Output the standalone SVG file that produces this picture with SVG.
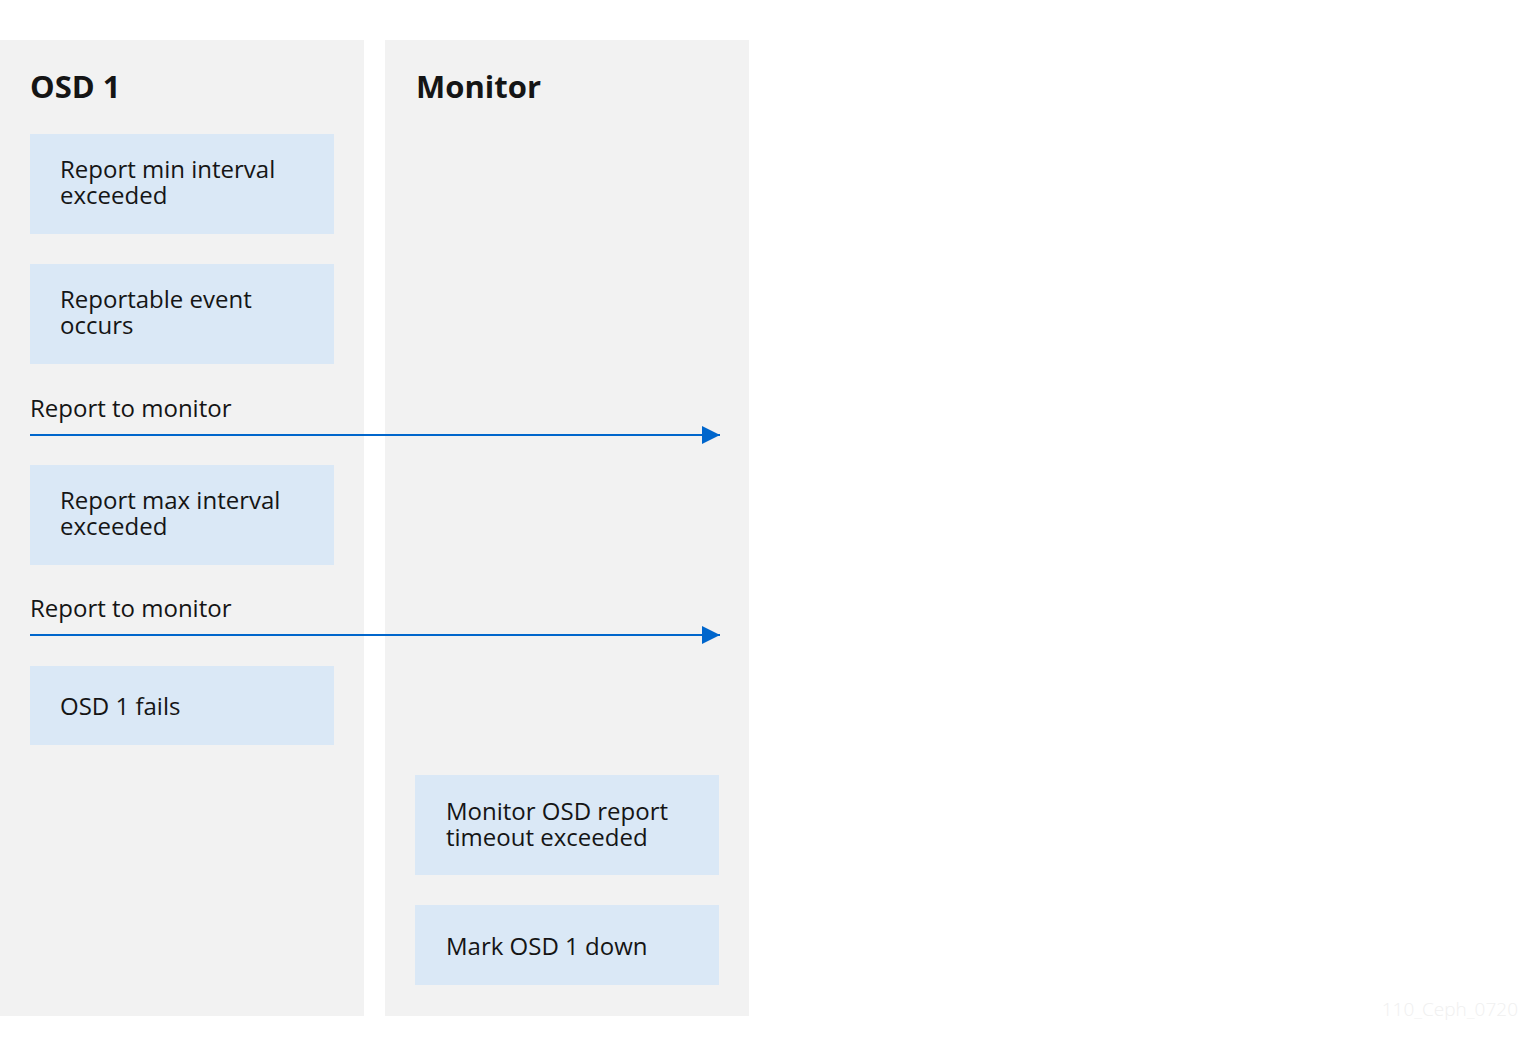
<svg xmlns="http://www.w3.org/2000/svg" width="1520" height="1050" viewBox="0 0 1520 1050">
<defs>
<style>
.panel{fill:#f2f2f2}
.box{fill:#dae8f6}
.t{font-family:"Open Sans","Liberation Sans",sans-serif;font-size:24px;fill:#151515}
.h{font-family:"Open Sans","Liberation Sans",sans-serif;font-size:31px;font-weight:bold;fill:#151515}
.conn{stroke:#0066cc;stroke-width:2;fill:none}
.wm{font-family:"Open Sans","Liberation Sans",sans-serif;font-size:19px;fill:#f0f0f0;font-weight:300}
</style>
<marker id="arr" markerWidth="18" markerHeight="18" refX="18" refY="9" orient="auto" markerUnits="userSpaceOnUse">
<path d="M0,0 L18,9 L0,18 Z" fill="#0066cc"/>
</marker>
</defs>
<rect width="1520" height="1050" fill="#ffffff"/>
<g id="lane-osd1">
<rect class="panel" x="0" y="40" width="364" height="976"/>
<text class="h" x="30" y="98">OSD 1</text>
</g>
<g id="lane-monitor">
<rect class="panel" x="385" y="40" width="364" height="976"/>
<text class="h" x="416" y="98">Monitor</text>
</g>
<g id="n1"><rect class="box" x="30" y="134" width="304" height="100"/><text class="t" x="60" y="178">Report min interval<tspan x="60" dy="26">exceeded</tspan></text></g>
<g id="n2"><rect class="box" x="30" y="264" width="304" height="100"/><text class="t" x="60" y="308">Reportable event<tspan x="60" dy="26">occurs</tspan></text></g>
<g id="n3"><rect class="box" x="30" y="465" width="304" height="100"/><text class="t" x="60" y="509">Report max interval<tspan x="60" dy="26">exceeded</tspan></text></g>
<g id="n4"><rect class="box" x="30" y="666" width="304" height="79"/><text class="t" x="60" y="715">OSD 1 fails</text></g>
<g id="n5"><rect class="box" x="415" y="775" width="304" height="100"/><text class="t" x="446" y="820">Monitor OSD report<tspan x="446" dy="26">timeout exceeded</tspan></text></g>
<g id="n6"><rect class="box" x="415" y="905" width="304" height="80"/><text class="t" x="446" y="955">Mark OSD 1 down</text></g>
<g id="connectors">
<line class="conn" x1="30" y1="435" x2="720" y2="435" marker-end="url(#arr)"/>
<text class="t" x="30" y="417">Report to monitor</text>
<line class="conn" x1="30" y1="635" x2="720" y2="635" marker-end="url(#arr)"/>
<text class="t" x="30" y="617">Report to monitor</text>
</g>
<text class="wm" x="1518" y="1016" text-anchor="end">110_Ceph_0720</text>
</svg>
